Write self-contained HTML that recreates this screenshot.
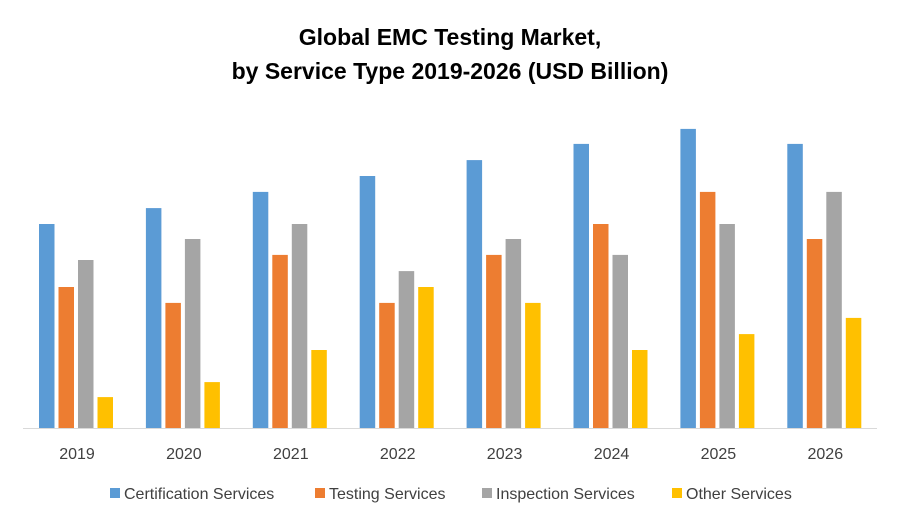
<!DOCTYPE html>
<html><head><meta charset="utf-8"><style>
body{margin:0;background:#fff;}
svg{display:block;font-family:"Liberation Sans",Arial,sans-serif;}
</style></head><body>
<svg id="chart" width="900" height="525" viewBox="0 0 900 525">
<rect width="900" height="525" fill="#fff"/>
<text x="450" y="45" text-anchor="middle" font-size="23" font-weight="bold" fill="#000">Global EMC Testing Market,</text>
<text x="450" y="79" text-anchor="middle" font-size="23" font-weight="bold" fill="#000">by Service Type 2019-2026 (USD Billion)</text>
<line x1="23" y1="428.5" x2="877" y2="428.5" stroke="#d9d9d9" stroke-width="1"/>
<g id="bars"></g>
<g id="labels"></g>
<g id="legend"></g>
</svg>
<script>
const categories = ["2019","2020","2021","2022","2023","2024","2025","2026"];
const seriesNames = ["Certification Services","Testing Services","Inspection Services","Other Services"];
const certification = [6.8,7.33,7.87,8.4,8.93,9.47,9.97,9.47];
const testing = [4.7,4.17,5.77,4.17,5.77,6.8,7.87,6.3];
const inspection = [5.6,6.3,6.8,5.23,6.3,5.77,6.8,7.87];
const other = [1.03,1.53,2.6,4.7,4.17,2.6,3.13,3.67];
const colors = ["#5B9BD5","#ED7D31","#A5A5A5","#FFC000"];
const series = [certification, testing, inspection, other];
const NS = "http://www.w3.org/2000/svg";
const base = 428, pxPerUnit = 30;
function yScale(v){ return base - v*pxPerUnit; }
function xCenter(i){ return 77 + i*106.9; }
const offsets = [-38,-18.5,1,20.5], bw = 15.5;
const gb = document.getElementById('bars');
series.forEach((vals, s) => {
  vals.forEach((v, i) => {
    const r = document.createElementNS(NS,'rect');
    
    
    r.setAttribute('x', xCenter(i) + offsets[s]);
    r.setAttribute('y', yScale(v));
    r.setAttribute('width', bw);
    r.setAttribute('height', base - yScale(v));
    r.setAttribute('fill', colors[s]);
    gb.appendChild(r);
  });
});
const gl = document.getElementById('labels');
categories.forEach((c, i) => {
  const t = document.createElementNS(NS,'text');
  
  
  t.setAttribute('x', xCenter(i));
  t.setAttribute('y', 459);
  t.setAttribute('text-anchor', 'middle');
  t.setAttribute('font-size', '16');
  t.setAttribute('fill', '#404040');
  t.textContent = c;
  gl.appendChild(t);
});
const legX = [110, 315, 482, 672];
const gLeg = document.getElementById('legend');
seriesNames.forEach((n, s) => {
  const g = document.createElementNS(NS,'g');
  
  
  const r = document.createElementNS(NS,'rect');
  r.setAttribute('x', legX[s]); r.setAttribute('y', 488);
  r.setAttribute('width', 10); r.setAttribute('height', 10);
  r.setAttribute('fill', colors[s]);
  const t = document.createElementNS(NS,'text');
  t.setAttribute('x', legX[s] + 14); t.setAttribute('y', 499);
  t.setAttribute('font-size', '16'); t.setAttribute('fill', '#404040');
  t.textContent = n;
  g.appendChild(r); g.appendChild(t);
  gLeg.appendChild(g);
});
</script>
</body></html>
